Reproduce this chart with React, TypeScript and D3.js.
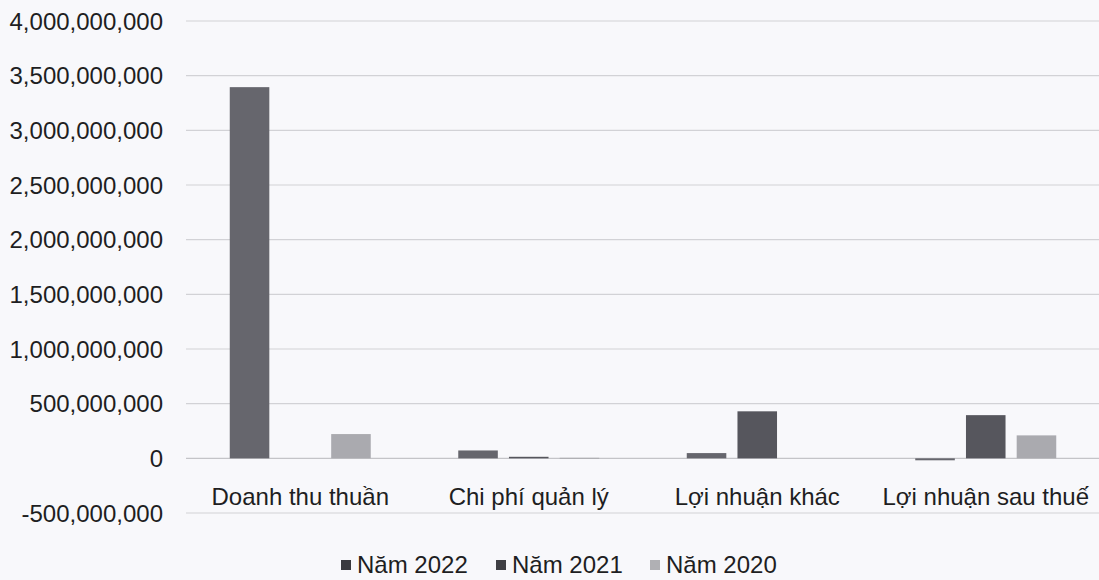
import React from "react";
import * as d3 from "d3";

const categories = ["Doanh thu thuần", "Chi phí quản lý", "Lợi nhuận khác", "Lợi nhuận sau thuế"];
const seriesNames = ["Năm 2022", "Năm 2021", "Năm 2020"];
const values2022 = [3395000000, 72000000, 48000000, -18000000];
const values2021 = [0, 14000000, 430000000, 395000000];
const values2020 = [222000000, 5000000, 0, 210000000];
const yTicks = [-500000000, 0, 500000000, 1000000000, 1500000000, 2000000000, 2500000000, 3000000000, 3500000000, 4000000000];
const seriesColors = ["#66666d", "#56565d", "#aaaaaf"];
const legendColors = ["#3a3a3f", "#3f3f44", "#b0b0b4"];

const W = 1099;
const H = 580;

export default function App() {
  const allSeries = [values2022, values2021, values2020];
  const left = 186;
  const right = 1100;
  const y = d3.scaleLinear().domain([-500000000, 4000000000]).range([513, 21]);
  const x0 = d3.scaleBand<string>().domain(categories).range([left, right]).paddingInner(0.383).paddingOuter(0.1915);
  const x1 = d3.scaleBand<string>().domain(seriesNames).range([0, x0.bandwidth()]).paddingInner(0.22);
  const fmt = (v: number) => d3.format(",")(v).replace("\u2212", "-");
  const font = "'Liberation Sans', Arial, sans-serif";

  const legendX = [341, 496, 650];

  return (
    <svg width={W} height={H} style={{ position: "fixed", left: 0, top: 0, background: "#f8f8fb" }} fontFamily={font}>
      <rect x={0} y={0} width={W} height={H} fill="#f8f8fb" />
      {yTicks.map((t) => (
        <g key={t}>
          <line x1={left} x2={right} y1={y(t)} y2={y(t)} stroke={t === 0 ? "#c4c4c8" : "#d2d2d6"} strokeWidth={1.2} />
          <text x={163} y={y(t)} textAnchor="end" dominantBaseline="central" fontSize={24} fill="#1e1e22">
            {fmt(t)}
          </text>
        </g>
      ))}
      {categories.map((c, ci) => (
        <g key={c}>
          {allSeries.map((vals, si) => {
            const v = vals[ci];
            if (v === 0) return null;
            const bx = (x0(c) as number) + (x1(seriesNames[si]) as number);
            const y0 = y(0);
            const yv = y(v);
            return (
              <rect
                key={si}
                x={bx}
                y={Math.min(y0, yv)}
                width={x1.bandwidth()}
                height={Math.max(1, Math.abs(y0 - yv))}
                fill={seriesColors[si]}
              />
            );
          })}
          <text x={(x0(c) as number) + x0.bandwidth() / 2} y={505} textAnchor="middle" fontSize={24} fill="#1e1e22">
            {c}
          </text>
        </g>
      ))}
      {seriesNames.map((s, i) => (
        <g key={s}>
          <rect x={legendX[i]} y={560} width={10} height={10} fill={legendColors[i]} />
          <text x={legendX[i] + 16} y={573} fontSize={24} fill="#1e1e22">
            {s}
          </text>
        </g>
      ))}
    </svg>
  );
}
